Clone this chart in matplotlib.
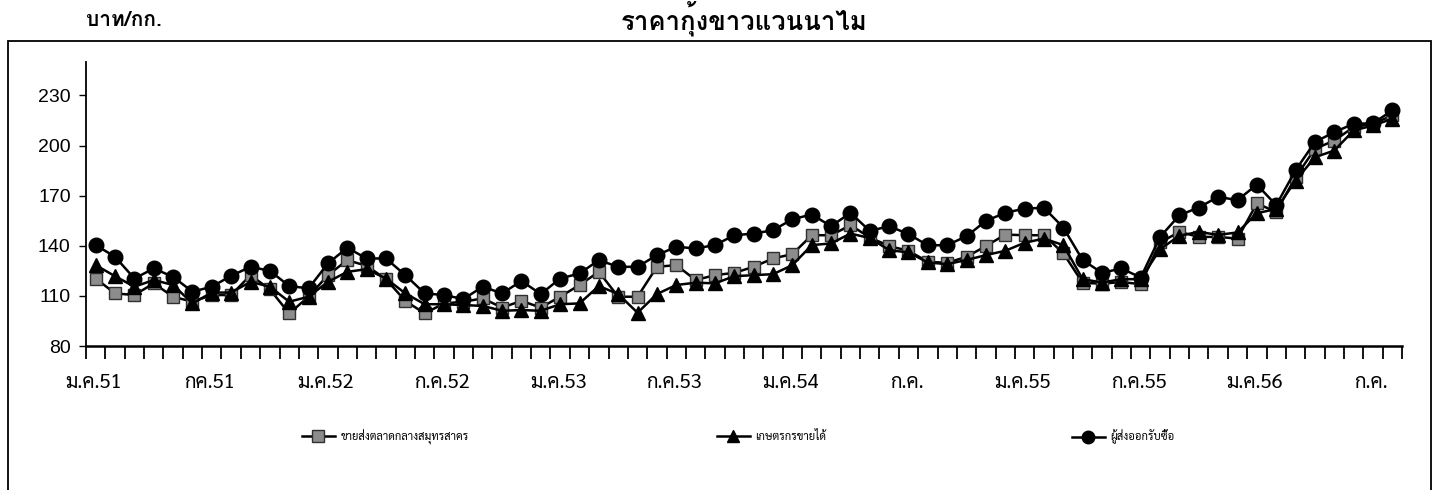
import matplotlib
matplotlib.use("Agg")
import matplotlib.pyplot as plt
from matplotlib.lines import Line2D
from matplotlib.patches import Rectangle
import numpy as np

# ---------------- data ----------------
months = list(range(68))  # ม.ค.51 (Jan 2008) .. ส.ค.56 (Aug 2013)

tick_labels = ["ม.ค.51", "กค.51", "ม.ค.52", "ก.ค.52", "ม.ค.53", "ก.ค.53",
               "ม.ค.54", "ก.ค.", "ม.ค.55", "ก.ค.55", "ม.ค.56", "ก.ค."]
tick_label_idx = [0, 6, 12, 18, 24, 30, 36, 42, 48, 54, 60, 66]

wholesale = [120.4, 111.5, 110.5, 117.5, 109.5, 106.5, 110.5, 110.5, 122.4, 113.9,
             99.5, 109.5, 122.4, 131.4, 128.0, 120.0, 107.0, 99.5, 105.5, 106.5,
             108.5, 103.0, 107.0, 103.0, 109.5, 116.5, 124.4, 109.5, 109.5, 127.4,
             128.4, 119.5, 122.4, 123.8, 127.4, 132.4, 135.0, 146.3, 146.3, 152.3,
             145.0, 139.8, 137.0, 130.4, 129.8, 133.4, 139.8, 146.7, 146.3, 146.3,
             135.5, 117.8, 117.3, 118.3, 117.0, 142.0, 148.3, 145.3, 145.3, 144.3,
             165.3, 160.3, 181.0, 198.0, 203.0, 211.0, 213.0, 218.0]

farmer = [128.4, 121.8, 115.5, 119.5, 116.5, 105.5, 112.0, 112.0, 118.4, 115.5,
          106.5, 109.5, 118.4, 124.4, 126.0, 120.4, 111.5, 105.0, 105.0, 104.5,
          104.0, 101.1, 101.5, 101.1, 105.0, 105.5, 115.9, 111.1, 99.9, 111.1,
          116.5, 117.9, 117.5, 121.8, 122.4, 123.0, 128.4, 140.4, 141.4, 147.3,
          144.6, 137.4, 136.0, 130.0, 129.0, 131.5, 134.4, 137.0, 141.8, 144.3,
          140.4, 120.0, 118.0, 120.0, 120.0, 138.0, 146.0, 148.3, 146.5, 148.0,
          159.5, 162.0, 179.0, 193.0, 197.0, 209.0, 212.0, 216.0]

exporter = [140.4, 133.4, 120.4, 126.4, 121.4, 112.5, 115.5, 122.0, 127.4, 125.0,
            115.9, 114.5, 129.4, 138.8, 132.4, 132.4, 122.4, 111.5, 110.5, 108.1,
            115.5, 111.5, 118.9, 111.1, 120.4, 123.4, 131.4, 127.4, 127.4, 134.4,
            139.4, 138.4, 140.4, 146.3, 147.3, 149.3, 155.9, 158.7, 151.7, 159.7,
            148.9, 151.7, 147.0, 140.2, 140.4, 145.7, 154.9, 159.7, 162.3, 162.7,
            150.9, 131.4, 123.8, 126.4, 121.0, 145.3, 158.3, 162.9, 169.3, 167.3,
            176.6, 164.3, 185.2, 202.1, 208.0, 213.0, 213.3, 221.0]

series_names = ["ขายส่งตลาดกลางสมุทรสาคร", "เกษตรกรขายได้", "ผู้ส่งออกรับซื้อ"]
title = "ราคากุ้งขาวแวนนาไม"
unit = "บาท/กก."
y_ticks = [80, 110, 140, 170, 200, 230]

# ---------------- fonts ----------------
TITLE_FONT = ["Loma", "Noto Sans Thai Looped", "DejaVu Sans"]
THAI_FONT = ["Sarabun", "Noto Sans Thai Looped", "DejaVu Sans"]
NUM_FONT = ["Liberation Sans", "DejaVu Sans"]

W, H = 1435, 490
fig = plt.figure(figsize=(W / 100, H / 100), dpi=100)

def fx(px):
    return px / W

def fy(py):
    return 1 - py / H

# outer chart border
fig.patches.append(Rectangle((fx(8), fy(492)), fx(1431 - 8), (492 - 41) / H,
                             transform=fig.transFigure, fill=False,
                             edgecolor="black", linewidth=1.3))

ax = fig.add_axes([fx(86), fy(346), fx(1402 - 86), (346 - 62) / H])
ax.set_xlim(-0.5, 67.5)
ax.set_ylim(80, 250)

lw = 1.8
ax.plot(months, wholesale, color="black", linewidth=lw, marker="s",
        markersize=9, markerfacecolor="#8c8c8c", markeredgecolor="#303030",
        markeredgewidth=1.0, zorder=3)
ax.plot(months, farmer, color="black", linewidth=lw, marker="^",
        markersize=9.5, markerfacecolor="black", markeredgecolor="black", zorder=4)
ax.plot(months, exporter, color="black", linewidth=lw, marker="o",
        markersize=10.5, markerfacecolor="black", markeredgecolor="black", zorder=5)

for s in ["top", "right"]:
    ax.spines[s].set_visible(False)
ax.spines["left"].set_linewidth(1.3)
ax.spines["bottom"].set_linewidth(1.8)

ax.set_yticks(y_ticks)
ax.set_yticklabels([str(v) for v in y_ticks], fontfamily=NUM_FONT, fontsize=14)
ax.tick_params(axis="y", length=5, width=1.0, pad=6)

ax.set_xticks(np.arange(-0.5, 68.0, 1.0))
ax.set_xticklabels([])
ax.tick_params(axis="x", which="major", length=9, width=1.3, direction="out")
ax.set_xticks([i - 0.1 for i in tick_label_idx], minor=True)
ax.set_xticklabels(tick_labels, minor=True, fontfamily=THAI_FONT, fontsize=14.5)
ax.tick_params(axis="x", which="minor", length=0, pad=20)

# titles
fig.text(fx(744), fy(19), title, ha="center", va="center", fontsize=18.5,
         fontweight="bold", fontfamily=TITLE_FONT)
fig.text(fx(86), fy(20), unit, ha="left", va="center", fontsize=15,
         fontweight="bold", fontfamily=TITLE_FONT)

# legend (three separate entries like the original)
handles = [
    Line2D([], [], color="black", linewidth=lw, marker="s", markersize=8,
           markerfacecolor="#8c8c8c", markeredgecolor="#303030"),
    Line2D([], [], color="black", linewidth=lw, marker="^", markersize=8,
           markerfacecolor="black", markeredgecolor="black"),
    Line2D([], [], color="black", linewidth=lw, marker="o", markersize=9,
           markerfacecolor="black", markeredgecolor="black"),
]
leg_x = [296, 711, 1066]
for h, name, x0 in zip(handles, series_names, leg_x):
    fig.legend(handles=[h], labels=[name], loc="center left",
               bbox_to_anchor=(fx(x0), fy(437)), frameon=False,
               handlelength=3.0, handletextpad=0.5, borderpad=0,
               prop={"family": THAI_FONT, "size": 8})

fig.savefig("out.png", dpi=100)
